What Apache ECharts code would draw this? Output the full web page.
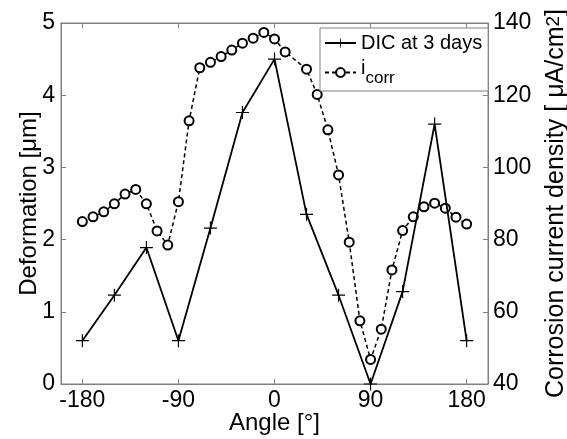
<!DOCTYPE html>
<html>
<head>
<meta charset="utf-8">
<script src="https://cdn.jsdelivr.net/npm/echarts@6/dist/echarts.min.js"></script>
<style>
  html, body { margin: 0; padding: 0; background: #fff; }
  #chart { width: 567px; height: 439px; }
</style>
</head>
<body>
<div id="chart"></div>
<script>
// Deformation measured by DIC every 30 degrees
const dicAngles = [-180, -150, -120, -90, -60, -30, 0, 30, 60, 90, 120, 150, 180];
const dicValues = [0.6, 1.23, 1.89, 0.6, 2.16, 3.76, 4.5, 2.35, 1.23, 0, 1.28, 3.6, 0.6];

// Corrosion current density around the circumference
const icorrAngles = [-180, -170, -160, -150, -140, -130, -120, -110, -100, -90,
  -80, -70, -60, -50, -40, -30, -20, -10, 0, 10,
  30, 40, 50, 60, 70, 80, 90, 100, 110, 120, 130, 140, 150, 160, 170, 180];
const icorrValues = [85.0, 86.3, 87.7, 89.9, 92.6, 93.9, 89.9, 82.4, 78.5, 90.5,
  112.9, 127.6, 129.1, 130.7, 132.5, 134.4, 135.8, 137.4, 135.6, 132.0,
  127.2, 120.2, 110.4, 97.9, 79.3, 57.5, 46.8, 55.2, 71.6, 82.5, 86.3, 89.1, 90.1, 88.7, 86.2, 84.3];

const xTicks = [-180, -90, 0, 90, 180];
const leftTicks = [0, 1, 2, 3, 4, 5];
const rightTicks = [40, 60, 80, 100, 120, 140];

const FONT = 'Liberation Sans, Arial, sans-serif';
const AXIS_GRAY = '#808080';

const pair = (xs, ys) => xs.map((x, i) => [x, ys[i]]);

const crossSymbol = 'path://M-0.09,-1H0.09V1H-0.09Z M-1,-0.09H1V0.09H-1Z';

const chart = echarts.init(document.getElementById('chart'), null, { renderer: 'canvas' });

chart.setOption({
  animation: false,
  backgroundColor: '#fff',
  textStyle: { fontFamily: FONT },
  grid: {
    left: 61, right: 79, top: 23, bottom: 55,
    containLabel: false, outerBoundsMode: 'none',
    show: true, borderColor: AXIS_GRAY, borderWidth: 1, backgroundColor: 'transparent'
  },
  legend: {
    orient: 'vertical',
    left: 320, top: 28,
    padding: [5, 6, 4, 4],
    itemGap: 5,
    itemWidth: 31, itemHeight: 11,
    backgroundColor: '#fff',
    borderColor: AXIS_GRAY, borderWidth: 1, borderRadius: 0,
    data: ['DIC at 3 days', 'icorr'],
    formatter: name => name === 'icorr' ? '{i|i}{s|corr}' : name,
    textStyle: {
      fontFamily: FONT, fontSize: 20, color: '#000',
      rich: {
        i: { fontFamily: FONT, fontSize: 20, color: '#000', verticalAlign: 'top' },
        s: { fontFamily: FONT, fontSize: 17, color: '#000', verticalAlign: 'bottom', padding: [12, 0, 0, 0] }
      }
    }
  },
  xAxis: [{
    type: 'value', min: -200, max: 200,
    name: 'Angle [°]', nameLocation: 'middle', nameGap: 27, nameMoveOverlap: false,
    nameTextStyle: { fontFamily: FONT, fontSize: 24, color: '#000' },
    axisLine: { show: true, onZero: false, lineStyle: { color: AXIS_GRAY, width: 1 } },
    axisTick: { show: true, inside: true, length: 5, customValues: xTicks, lineStyle: { color: AXIS_GRAY } },
    axisLabel: { customValues: xTicks, fontFamily: FONT, fontSize: 23, color: '#000', margin: 5 },
    splitLine: { show: false }
  }, {
    type: 'value', min: -200, max: 200, position: 'top',
    axisLine: { show: true, onZero: false, lineStyle: { color: AXIS_GRAY, width: 1 } },
    axisTick: { show: true, inside: true, length: 5, customValues: xTicks, lineStyle: { color: AXIS_GRAY } },
    axisLabel: { show: false },
    splitLine: { show: false }
  }],
  yAxis: [{
    type: 'value', min: 0, max: 5, interval: 1,
    name: 'Deformation [μm]', nameLocation: 'middle', nameGap: 20, nameMoveOverlap: false,
    nameTextStyle: { fontFamily: FONT, fontSize: 24, color: '#000' },
    axisLine: { show: true, onZero: false, lineStyle: { color: AXIS_GRAY, width: 1 } },
    axisTick: { show: true, inside: true, length: 5, customValues: leftTicks, lineStyle: { color: AXIS_GRAY } },
    axisLabel: { customValues: leftTicks, fontFamily: FONT, fontSize: 23, color: '#000', margin: 6 },
    splitLine: { show: false }
  }, {
    type: 'value', min: 40, max: 140, interval: 20, position: 'right',
    name: '{n|Corrosion current density [ μA/cm}{p|2}{n|]}',
    nameLocation: 'middle', nameGap: 56, nameRotate: 90, nameMoveOverlap: false,
    nameTextStyle: {
      fontFamily: FONT, fontSize: 25, color: '#000',
      rich: {
        n: { fontFamily: FONT, fontSize: 25, color: '#000', verticalAlign: 'bottom' },
        p: { fontFamily: FONT, fontSize: 19, color: '#000', verticalAlign: 'top' }
      }
    },
    axisLine: { show: true, onZero: false, lineStyle: { color: AXIS_GRAY, width: 1 } },
    axisTick: { show: true, inside: true, length: 5, customValues: rightTicks, lineStyle: { color: AXIS_GRAY } },
    axisLabel: { customValues: rightTicks, fontFamily: FONT, fontSize: 23, color: '#000', margin: 5 },
    splitLine: { show: false }
  }],
  series: [{
    name: 'DIC at 3 days',
    type: 'line',
    xAxisIndex: 0, yAxisIndex: 0,
    data: pair(dicAngles, dicValues),
    symbol: crossSymbol, symbolSize: 13,
    lineStyle: { color: '#000', width: 1.8 },
    itemStyle: { color: '#000', borderWidth: 0 },
    z: 3
  }, {
    name: 'icorr',
    type: 'line',
    xAxisIndex: 0, yAxisIndex: 1,
    data: pair(icorrAngles, icorrValues),
    symbol: 'emptyCircle', symbolSize: 9,
    lineStyle: { color: '#000', width: 1.5, type: [4, 3] },
    itemStyle: { color: '#000', borderColor: '#000', borderWidth: 1.5 },
    z: 2
  }]
});
</script>
</body>
</html>
